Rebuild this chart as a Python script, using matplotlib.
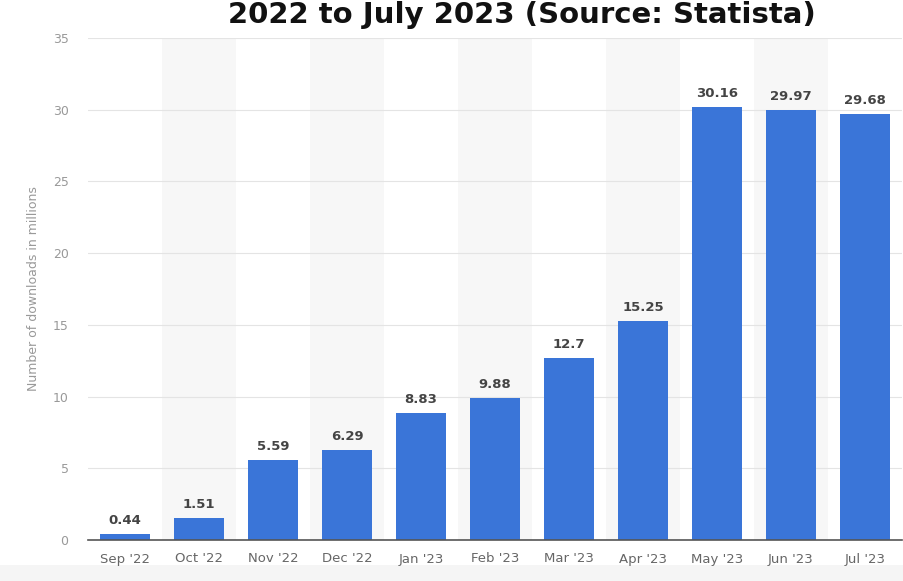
import matplotlib
matplotlib.use("Agg")
import matplotlib.pyplot as plt
from matplotlib.patches import Rectangle

months = ["Sep '22", "Oct '22", "Nov '22", "Dec '22", "Jan '23", "Feb '23",
          "Mar '23", "Apr '23", "May '23", "Jun '23", "Jul '23"]
downloads = [0.44, 1.51, 5.59, 6.29, 8.83, 9.88, 12.7, 15.25, 30.16, 29.97, 29.68]
value_labels = ["0.44", "1.51", "5.59", "6.29", "8.83", "9.88", "12.7", "15.25",
                "30.16", "29.97", "29.68"]
yticks = [0, 5, 10, 15, 20, 25, 30, 35]

W, H = 904, 581
fig = plt.figure(figsize=(W / 100, H / 100), dpi=100)
fig.patch.set_facecolor("white")

# light gray strip at the bottom of the figure
fig.patches.append(Rectangle((0, 0), 1, 16 / H, transform=fig.transFigure,
                             facecolor="#f5f5f5", edgecolor="none", zorder=-5))

ax = fig.add_axes([88 / W, 41 / H, 814 / W, 502 / H])
ax.set_facecolor("white")

x = list(range(len(months)))
# alternating background bands
for i in x:
    if i % 2 == 1:
        ax.axvspan(i - 0.5, i + 0.5, color="#f7f7f7", zorder=0, lw=0)

ax.bar(x, downloads, width=0.68, color="#3a75d8", zorder=3)

for xi, v, lab in zip(x, downloads, value_labels):
    ax.annotate(lab, (xi, v), xytext=(0, 5), textcoords="offset points",
                ha="center", va="bottom", fontsize=9.5, fontweight="bold",
                color="#444444", zorder=4)

ax.set_xlim(-0.5, len(months) - 0.5)
ax.set_ylim(0, 35)
ax.set_yticks(yticks)
ax.set_yticklabels([str(t) for t in yticks])
ax.set_xticks(x)
ax.set_xticklabels(months)

ax.yaxis.grid(True, color="#e4e4e4", lw=0.8, zorder=1)
ax.xaxis.grid(False)
ax.set_axisbelow(True)

for s in ["top", "right", "left"]:
    ax.spines[s].set_visible(False)
ax.spines["bottom"].set_color("#555555")
ax.spines["bottom"].set_linewidth(1.2)
ax.spines["bottom"].set_zorder(5)

ax.tick_params(axis="y", length=0, pad=14, labelsize=9, labelcolor="#999999")
ax.tick_params(axis="x", length=0, pad=9, labelsize=9.5, labelcolor="#666666")

ax.set_ylabel("Number of downloads in millions", fontsize=9, color="#999999",
              labelpad=9)

fig.text(522 / W, 1 - 23 / H, "2022 to July 2023 (Source: Statista)",
         ha="center", va="baseline", fontsize=21, fontweight="bold",
         color="#111111")

fig.savefig("out.png", dpi=100)
